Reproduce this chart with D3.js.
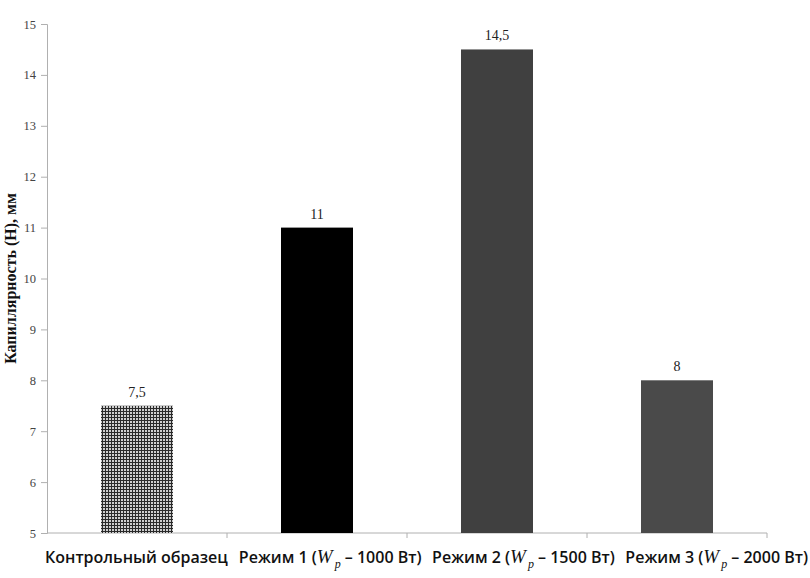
<!DOCTYPE html>
<html>
<head>
<meta charset="utf-8">
<script src="https://cdn.jsdelivr.net/npm/d3@7"></script>
<style>
  body { margin: 0; background: #fff; }
  svg { display: block; }
</style>
</head>
<body>
<svg id="chart" width="810" height="578"></svg>
<script>
// categories (prefix, power) and values
const categories = ["Контрольный образец", "Режим 1", "Режим 2", "Режим 3"];
const powers = [null, "1000", "1500", "2000"];
const values = [7.5, 11, 14.5, 8];
const valueLabels = ["7,5", "11", "14,5", "8"];
const yTicks = [5, 6, 7, 8, 9, 10, 11, 12, 13, 14, 15];
const barFills = ["url(#checks)", "#000000", "#404040", "#4a4a4a"];

const margin = {left: 47, right: 43, top: 24, bottom: 45};
const width = 810, height = 578;

var svg = d3.select("#chart");

// checkered fill for the control sample
var defs = svg.append("defs");
var pat = defs.append("pattern")
    .attr("id", "checks")
    .attr("patternUnits", "userSpaceOnUse")
    .attr("width", 3).attr("height", 3);
pat.append("rect").attr("width", 3).attr("height", 3).attr("fill", "#cfcfcf");
pat.append("rect").attr("width", 1).attr("height", 3).attr("fill", "#2a2a2a");
pat.append("rect").attr("width", 3).attr("height", 1).attr("fill", "#2a2a2a");

var x = d3.scaleBand()
    .domain(categories)
    .range([margin.left, width - margin.right])
    .paddingInner(0.6)
    .paddingOuter(0.3);

var y = d3.scaleLinear()
    .domain([5, 15])
    .range([height - margin.bottom, margin.top]);

// y axis
var yAxis = svg.append("g")
    .attr("transform", "translate(" + margin.left + ",0)")
    .call(d3.axisLeft(y).tickValues(yTicks).tickSize(6).tickPadding(5));
yAxis.attr("font-family", "'Liberation Serif', serif").attr("font-size", 12.5);
yAxis.select(".domain").attr("stroke", "#b0b0b0");
yAxis.selectAll(".tick line").attr("stroke", "#b0b0b0");
yAxis.selectAll(".tick text").attr("fill", "#444");

// x axis line with ticks at category boundaries
var x0 = margin.left, x1 = width - margin.right, yBase = y(5);
svg.append("line")
    .attr("x1", x0).attr("x2", x1)
    .attr("y1", yBase).attr("y2", yBase)
    .attr("stroke", "#b0b0b0");
var step = x.step();
for (let i = 1; i <= categories.length; i++) {
    svg.append("line")
        .attr("x1", x0 + i * step).attr("x2", x0 + i * step)
        .attr("y1", yBase).attr("y2", yBase + 5)
        .attr("stroke", "#b0b0b0");
}

// bars
svg.selectAll("rect.bar")
    .data(values)
    .enter()
    .append("rect")
        .attr("class", "bar")
        .attr("x", (d, i) => x(categories[i]))
        .attr("width", x.bandwidth())
        .attr("y", d => y(d))
        .attr("height", d => y(5) - y(d))
        .attr("fill", (d, i) => barFills[i]);

// value labels
svg.selectAll("text.val")
    .data(values)
    .enter()
    .append("text")
        .attr("class", "val")
        .attr("x", (d, i) => x(categories[i]) + x.bandwidth() / 2)
        .attr("y", d => y(d) - 9)
        .attr("text-anchor", "middle")
        .attr("fill", "#222")
        .style("font-family", "'Liberation Serif', 'DejaVu Serif', serif")
        .style("font-size", "14px")
        .text((d, i) => valueLabels[i]);

// category labels, laid out one after another like in the original
var labels = [];
categories.forEach((c, i) => {
    var t = svg.append("text")
        .attr("y", 563)
        .attr("fill", "#111")
        .style("font-family", "'Open Sans', sans-serif")
        .style("font-weight", "600")
        .style("font-size", "16px");
    if (powers[i] === null) {
        t.text(c);
    } else {
        t.append("tspan").text(c + " (");
        t.append("tspan")
            .style("font-family", "'Liberation Serif', serif")
            .style("font-style", "italic")
            .style("font-weight", "normal")
            .style("font-size", "19px")
            .text("W");
        t.append("tspan")
            .attr("dy", 5)
            .attr("dx", 2)
            .style("font-family", "'Liberation Serif', serif")
            .style("font-style", "italic")
            .style("font-weight", "normal")
            .style("font-size", "12px")
            .text("p");
        t.append("tspan")
            .attr("dy", -5)
            .text(" – " + powers[i] + " Вт)");
    }
    labels.push(t);
});
var widths = labels.map(t => t.node().getBBox().width);
var gap = (808 - 45 - d3.sum(widths)) / (labels.length - 1);
var pos = 45;
labels.forEach((t, i) => {
    t.attr("x", pos);
    pos += widths[i] + gap;
});

// y axis title
svg.append("text")
    .attr("transform", "translate(16," + y(10) + ") rotate(-90)")
    .attr("text-anchor", "middle")
    .attr("fill", "#111")
    .style("font-family", "'Liberation Serif', serif")
    .style("font-weight", "bold")
    .style("font-size", "16px")
    .text("Капиллярность (Н), мм");
</script>
</body>
</html>
